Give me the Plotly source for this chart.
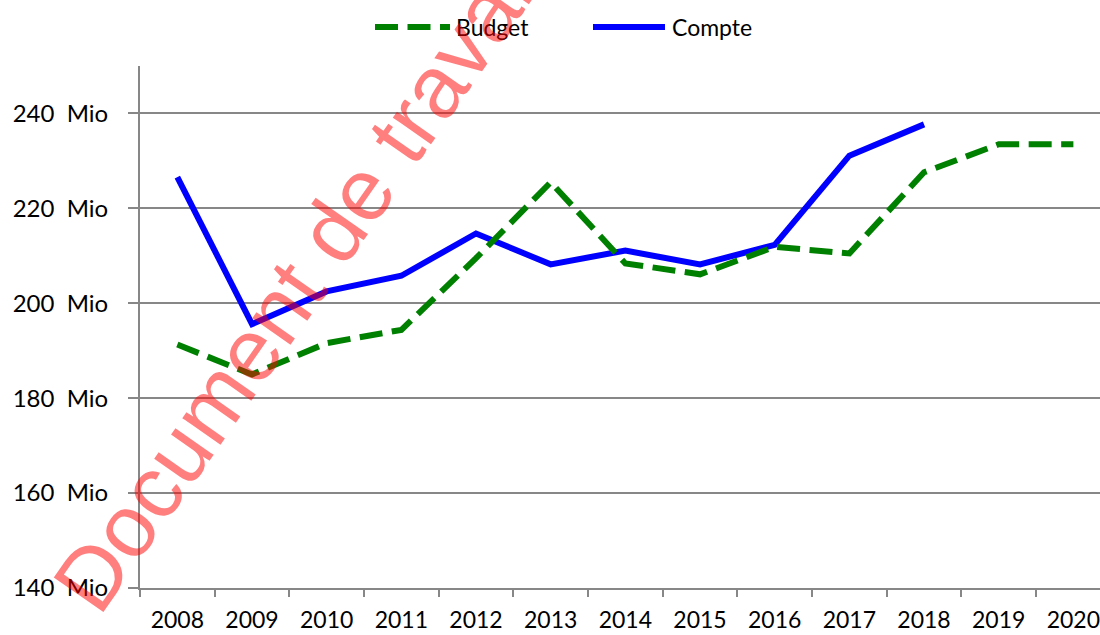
import plotly.graph_objects as go

# ---- data ----
years = ["2008", "2009", "2010", "2011", "2012", "2013", "2014",
         "2015", "2016", "2017", "2018", "2019", "2020"]
budget = [191.3, 185.0, 191.6, 194.4, 209.5, 225.5, 208.4, 206.1,
          211.9, 210.5, 227.6, 233.5, 233.5]
compte_years = ["2008", "2009", "2010", "2011", "2012", "2013",
                "2014", "2015", "2016", "2017", "2018"]
compte = [226.6, 195.6, 202.5, 205.8, 214.7, 208.2, 211.1, 208.2,
          212.3, 231.1, 237.7]
y_ticks = [140, 160, 180, 200, 220, 240]
y_tick_labels = [f"{v}  Mio" for v in y_ticks]
series_names = ["Budget", "Compte"]
watermark = "Document de travail"

# ---- layout constants ----
W, H = 1100, 635
ML, MR, MT, MB = 140, 0, 66, 47
PW, PH = W - ML - MR, H - MT - MB
GREY = "#878787"
GREEN = "#008000"
BLUE = "#0000ff"
FONT = "Lato"


def px_x(p):
    return (p - ML) / PW


def px_y(p):
    return (H - MB - p) / PH


fig = go.Figure()
fig.add_trace(go.Scatter(x=compte_years, y=compte, mode="lines",
                         name=series_names[1],
                         line=dict(color=BLUE, width=6)))
fig.add_trace(go.Scatter(x=years, y=budget, mode="lines",
                         name=series_names[0],
                         line=dict(color=GREEN, width=6, dash="23px,9.5px")))

# category width ~74.67px -> visible range
cat_w = 74.67
x_hi = -0.5 + PW / cat_w

fig.update_layout(
    width=W, height=H,
    margin=dict(l=ML, r=MR, t=MT, b=MB, pad=0),
    paper_bgcolor="white", plot_bgcolor="white",
    showlegend=False,
    template="none",
    font=dict(family=FONT, size=23, color="black"),
    xaxis=dict(type="category", categoryorder="array", categoryarray=years,
               range=[-0.5, x_hi], tickson="boundaries",
               ticks="outside", ticklen=7, tickwidth=2, tickcolor=GREY,
               showline=True, linecolor=GREY, linewidth=2,
               showgrid=False, zeroline=False, automargin=False,
               tickfont=dict(family=FONT, size=23, color="black"),
               ticklabelstandoff=10),
    yaxis=dict(range=[140, 250], tickvals=y_ticks, ticktext=y_tick_labels,
               ticks="outside", ticklen=10, tickwidth=2, tickcolor=GREY,
               showline=True, linecolor=GREY, linewidth=2,
               showgrid=True, gridcolor=GREY, gridwidth=2,
               zeroline=False, automargin=False,
               tickfont=dict(family=FONT, size=24, color="black"),
               ticklabelstandoff=15),
)

# ---- custom legend ----
leg_y = px_y(27)
legend_items = [
    (series_names[0], GREEN, "23px,9.5px", 375, 450, 454),
    (series_names[1], BLUE, "solid", 593, 665, 670),
]
for name, col, dash, x0, x1, tx in legend_items:
    fig.add_shape(type="line", xref="paper", yref="paper",
                  x0=px_x(x0), x1=px_x(x1), y0=leg_y, y1=leg_y,
                  line=dict(color=col, width=6, dash=dash))
    fig.add_annotation(xref="paper", yref="paper", x=px_x(tx), y=leg_y,
                       text=name, showarrow=False, xanchor="left",
                       yanchor="middle",
                       font=dict(family=FONT, size=23, color="black"))

# ---- watermark ----
fig.add_annotation(xref="paper", yref="paper", x=px_x(298), y=px_y(280),
                   text=watermark, showarrow=False, textangle=-55,
                   xanchor="center", yanchor="middle",
                   font=dict(family="Liberation Sans", size=88,
                             color="rgba(255,0,0,0.5)"))

fig.write_html("out.html",
               config={"displayModeBar": False},
               post_script="document.body.style.margin='0px';"
                           "document.body.style.overflow='hidden';")
